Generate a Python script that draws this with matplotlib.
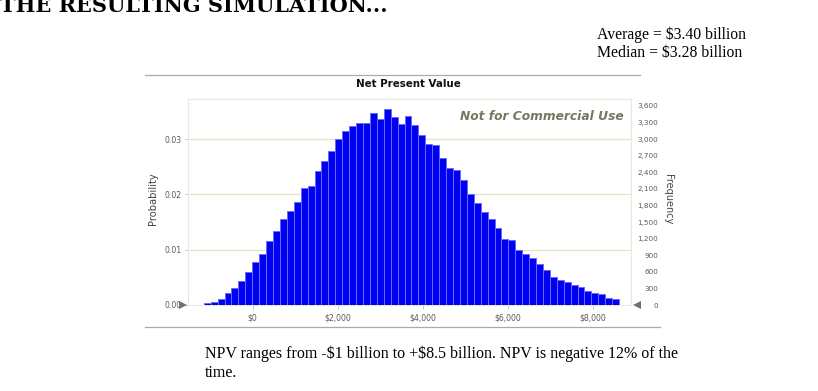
import matplotlib
matplotlib.use('Agg')
import matplotlib.pyplot as plt
import matplotlib.transforms as mtransforms
import numpy as np
from matplotlib.lines import Line2D

plt.rcParams['text.parse_math'] = False

# ---------------- data ----------------
npv_min = -1150      # $ millions, left edge of first bin
npv_max = 8620       # $ millions, right edge of last bin
trials = 100000
probability = [
    0.0003, 0.0005, 0.0010, 0.0021, 0.0031, 0.0043, 0.0059, 0.0077, 0.0093, 0.0116,
    0.0133, 0.0155, 0.0170, 0.0186, 0.0212, 0.0216, 0.0242, 0.0261, 0.0278, 0.0300,
    0.0315, 0.0324, 0.0330, 0.0329, 0.0348, 0.0336, 0.0354, 0.0340, 0.0327, 0.0342,
    0.0325, 0.0307, 0.0292, 0.0290, 0.0265, 0.0248, 0.0244, 0.0226, 0.0201, 0.0185,
    0.0169, 0.0156, 0.0140, 0.0120, 0.0118, 0.0100, 0.0092, 0.0085, 0.0074, 0.0063,
    0.0051, 0.0046, 0.0041, 0.0036, 0.0032, 0.0025, 0.0021, 0.0019, 0.0013, 0.0010,
]
x_ticks = [0, 2000, 4000, 6000, 8000]
x_tick_labels = ['$0', '$2,000', '$4,000', '$6,000', '$8,000']
prob_ticks = [0.00, 0.01, 0.02, 0.03]
prob_tick_labels = ['0.00', '0.01', '0.02', '0.03']
freq_ticks = [0, 300, 600, 900, 1200, 1500, 1800, 2100, 2400, 2700, 3000, 3300, 3600]
freq_tick_labels = ['0', '300', '600', '900', '1,200', '1,500', '1,800', '2,100',
                    '2,400', '2,700', '3,000', '3,300', '3,600']
chart_title = 'Net Present Value'
watermark = 'Not for Commercial Use'
slide_title = 'THE RESULTING SIMULATION...'
summary_lines = ['Average = $3.40 billion', 'Median = $3.28 billion']
caption_lines = ['NPV ranges from -$1 billion to +$8.5 billion. NPV is negative 12% of the',
                 'time.']

# ---------------- figure ----------------
W, H = 818, 391
fig = plt.figure(figsize=(W / 100, H / 100), dpi=100)
fig.patch.set_facecolor('white')

def fx(px):
    return px / W

def fy(py):
    return 1 - py / H

sans = 'DejaVu Sans'
serif = 'Liberation Serif'
tick_color = '#5a5a5a'

ax_left, ax_right, ax_top, ax_bottom = 188, 631, 99, 305
ax = fig.add_axes([fx(ax_left), fy(ax_bottom), fx(ax_right - ax_left), (ax_bottom - ax_top) / H])

edges = np.linspace(npv_min, npv_max, len(probability) + 1)
width = edges[1] - edges[0]
ax.bar(edges[:-1], probability, width=width, align='edge', color='#0000f2',
       edgecolor='#6a6aff', linewidth=0.7, zorder=3)

ax.set_xlim(-1522, 8900)
ax.set_ylim(0, 0.03725)
for v in prob_ticks[1:]:
    ax.axhline(v, color='#e6e3cc', lw=0.9, zorder=1)

ax.set_xticks(x_ticks)
ax.set_xticklabels(x_tick_labels, fontsize=5.6, color=tick_color, family=sans)
ax.set_yticks(prob_ticks)
ax.set_yticklabels(prob_tick_labels, fontsize=5.6, color=tick_color, family=sans)
ax.tick_params(axis='x', length=3, width=0.6, color='#bbbbbb', pad=3)
ax.tick_params(axis='y', length=2, width=0.6, color='#bbbbbb', pad=2.5)
for s in ax.spines.values():
    s.set_color('#ebe8da')
    s.set_linewidth(0.8)

ax2 = ax.twinx()
ax2.set_ylim(0, 0.03725 * trials)
ax2.set_yticks(freq_ticks)
ax2.set_yticklabels(freq_tick_labels, fontsize=5.2, color=tick_color, family=sans, ha='right')
ax2.tick_params(axis='y', length=0, pad=19.5)
for s in ax2.spines.values():
    s.set_visible(False)

# axis end markers
left_mark, = ax.plot([0], [0], marker='>', markersize=6, color='#707070',
                     clip_on=False, zorder=5, markeredgewidth=0, linestyle='none')
right_mark, = ax.plot([1.0], [0], marker='<', markersize=6, color='#707070',
                      clip_on=False, zorder=5, markeredgewidth=0, linestyle='none')
left_mark.set_transform(ax.transAxes + mtransforms.ScaledTranslation(-5 / 100, 0, fig.dpi_scale_trans))
right_mark.set_transform(ax.transAxes + mtransforms.ScaledTranslation(6 / 100, 0, fig.dpi_scale_trans))

# chart texts
fig.text(fx(408), fy(84), chart_title, ha='center', va='center', fontsize=7.4,
         fontweight='bold', family=sans, color='#111111')
fig.text(fx(624), fy(116), watermark, ha='right', va='center', fontsize=8.8,
         fontweight='bold', style='italic', family=sans, color='#77775f')
fig.text(fx(153), fy(199), 'Probability', rotation=90, ha='center', va='center',
         fontsize=7.2, family=sans, color='#444444')
fig.text(fx(668), fy(199), 'Frequency', rotation=270, ha='center', va='center',
         fontsize=7.0, family=sans, color='#444444')

# chart frame lines
fig.add_artist(Line2D([fx(145), fx(640)], [fy(75), fy(75)], color='#aaaaaa', lw=0.9))
fig.add_artist(Line2D([fx(145), fx(660)], [fy(327), fy(327)], color='#aaaaaa', lw=0.9))

# slide texts
fig.text(fx(0), fy(12), slide_title, ha='left', va='baseline', fontsize=15,
         fontweight='bold', family='DejaVu Serif', color='black')
fig.text(fx(597), fy(35), summary_lines[0], ha='left', va='center', fontsize=11.3,
         family=serif, color='black')
fig.text(fx(597), fy(53), summary_lines[1], ha='left', va='center', fontsize=11.3,
         family=serif, color='black')
fig.text(fx(205), fy(354), caption_lines[0], ha='left', va='center', fontsize=11.5,
         family=serif, color='black')
fig.text(fx(205), fy(373), caption_lines[1], ha='left', va='center', fontsize=11.5,
         family=serif, color='black')

fig.savefig('out.png', dpi=100)
